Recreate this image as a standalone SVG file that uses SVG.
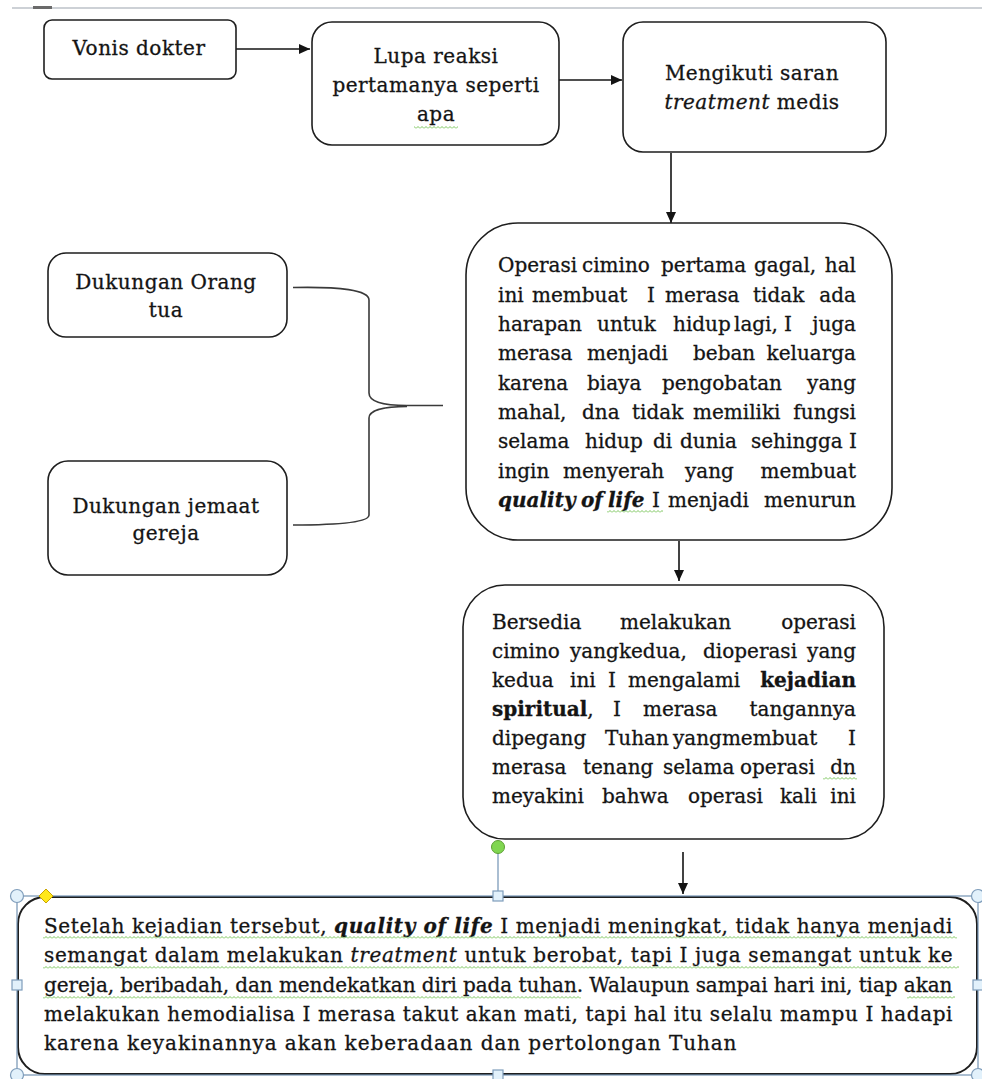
<svg xmlns="http://www.w3.org/2000/svg" width="982" height="1079" viewBox="0 0 982 1079">
  <defs>
    <style>
      .box { fill: #ffffff; stroke: #1e1e1e; stroke-width: 1.6; }
      .t { font-family: "DejaVu Serif", "Liberation Serif", serif; font-size: 20px; fill: #141414; stroke: #141414; stroke-width: 0.3; letter-spacing: 0.5px; }
      .p { font-size: 20px; letter-spacing: 0; }
      .c { text-anchor: middle; }
      .e { text-anchor: end; }
      .bi { font-weight: bold; font-style: italic; }
      .b { font-weight: bold; }
      .i { font-style: italic; }
      .conn { fill: none; stroke: #141414; stroke-width: 1.6; }
      .brace { fill: none; stroke: #3a3a3a; stroke-width: 1.6; }
      .frame { fill: none; stroke: #7493b3; stroke-width: 1.2; }
      .hc { fill: #e2f1fb; stroke: #7f9dbb; stroke-width: 1.2; }
      .hs { fill: #e2f1fb; stroke: #7f9dbb; stroke-width: 1.2; }
    </style>
    <marker id="arrow" markerUnits="userSpaceOnUse" markerWidth="11" markerHeight="10" refX="11" refY="5" orient="auto">
      <path d="M0,0 L11,5 L0,10 z" fill="#141414"/>
    </marker>
    <pattern id="squiggle" width="4" height="3" patternUnits="userSpaceOnUse">
      <polyline points="0,2.5 2,0.5 4,2.5" fill="none" stroke="#6cc04a" stroke-width="0.9"/>
    </pattern>
    <clipPath id="clipBottom">
      <rect x="18" y="897" width="960" height="159"/>
    </clipPath>
  </defs>

  <!-- page edge -->
  <rect x="12" y="7" width="970" height="2" fill="#cdd1d6"/>
  <rect x="33" y="6" width="19" height="3" fill="#6a6a6a"/>

  <!-- connectors -->
  <g id="connectors">
    <line class="conn" x1="236" y1="49" x2="310" y2="49" marker-end="url(#arrow)"/>
    <line class="conn" x1="547" y1="80" x2="622" y2="80" marker-end="url(#arrow)"/>
    <line class="conn" x1="671" y1="153" x2="671" y2="223" marker-end="url(#arrow)"/>
    <line class="conn" x1="679" y1="541" x2="679" y2="581" marker-end="url(#arrow)"/>
    <line class="conn" x1="683" y1="852" x2="683" y2="894" marker-end="url(#arrow)"/>
    <path class="brace" d="M293,287.5 C340,286.5 369,290 369,300 L369,393 C369,402 385,405.5 407,405.5 L443,405.5"/>
    <path class="brace" d="M407,406.5 C385,406.5 369,410 369,418 L369,515 C369,522 340,525 293,525"/>
  </g>

  <g id="vonis">
    <rect class="box" x="44" y="20" width="192" height="59" rx="8"/>
    <text class="t c" x="139" y="55">Vonis dokter</text>
  </g>

  <g id="lupa">
    <rect class="box" x="312" y="22" width="247" height="123" rx="20"/>
    <text class="t c" x="436" y="63">Lupa reaksi</text>
    <text class="t c" x="436" y="92">pertamanya seperti</text>
    <text class="t c" x="436" y="121">apa</text>
    <rect x="414" y="126" width="44" height="3" fill="url(#squiggle)"/>
  </g>

  <g id="mengikuti">
    <rect class="box" x="623" y="22" width="263" height="130" rx="20"/>
    <text class="t c" x="752" y="80">Mengikuti saran</text>
    <text class="t c" x="752" y="109"><tspan class="i">treatment</tspan> medis</text>
  </g>

  <g id="dukungan-ortu">
    <rect class="box" x="48" y="253" width="239" height="84" rx="18"/>
    <text class="t c" x="166" y="289">Dukungan Orang</text>
    <text class="t c" x="166" y="317">tua</text>
  </g>

  <g id="dukungan-gereja">
    <rect class="box" x="48" y="461" width="239" height="114" rx="20"/>
    <text class="t c" x="166" y="513">Dukungan jemaat</text>
    <text class="t c" x="166" y="540">gereja</text>
  </g>

  <g id="operasi-pertama">
    <rect class="box" x="466" y="223" width="426" height="317" rx="52"/>
    <text class="t p" y="272"><tspan x="498">Operasi</tspan><tspan x="582">cimino</tspan><tspan x="661">pertama</tspan><tspan x="754">gagal,</tspan><tspan class="e" x="856">hal</tspan></text>
    <text class="t p" y="301.5"><tspan x="498">ini</tspan><tspan x="532">membuat</tspan><tspan x="647">I</tspan><tspan x="665">merasa</tspan><tspan x="753">tidak</tspan><tspan class="e" x="856">ada</tspan></text>
    <text class="t p" y="331"><tspan x="498">harapan</tspan><tspan x="597">untuk</tspan><tspan x="673">hidup</tspan><tspan x="734">lagi,</tspan><tspan x="784">I</tspan><tspan class="e" x="856">juga</tspan></text>
    <text class="t p" y="360"><tspan x="498">merasa</tspan><tspan x="587">menjadi</tspan><tspan x="693">beban</tspan><tspan class="e" x="856">keluarga</tspan></text>
    <text class="t p" y="389.5"><tspan x="498">karena</tspan><tspan x="587">biaya</tspan><tspan x="662">pengobatan</tspan><tspan class="e" x="856">yang</tspan></text>
    <text class="t p" y="419"><tspan x="498">mahal,</tspan><tspan x="582">dna</tspan><tspan x="632">tidak</tspan><tspan x="693">memiliki</tspan><tspan class="e" x="856">fungsi</tspan></text>
    <text class="t p" y="448"><tspan x="498">selama</tspan><tspan x="585">hidup</tspan><tspan x="653">di</tspan><tspan x="680">dunia</tspan><tspan x="751">sehingga</tspan><tspan class="e" x="857">I</tspan></text>
    <text class="t p" y="477.5"><tspan x="498">ingin</tspan><tspan x="563">menyerah</tspan><tspan x="685">yang</tspan><tspan class="e" x="856">membuat</tspan></text>
    <text class="t p" y="507"><tspan class="bi" x="498">quality</tspan><tspan class="bi" x="581">of</tspan><tspan class="bi" x="608">life</tspan><tspan x="652">I</tspan><tspan x="668">menjadi</tspan><tspan class="e" x="856">menurun</tspan></text>
    <rect x="607" y="510" width="56" height="3" fill="url(#squiggle)"/>
  </g>

  <g id="operasi-kedua">
    <rect class="box" x="463" y="585" width="421" height="254" rx="42"/>
    <text class="t p" y="628.5"><tspan x="492">Bersedia</tspan><tspan x="620">melakukan</tspan><tspan class="e" x="856">operasi</tspan></text>
    <text class="t p" y="657.5"><tspan x="492">cimino</tspan><tspan x="570">yangkedua,</tspan><tspan x="703">dioperasi</tspan><tspan class="e" x="856">yang</tspan></text>
    <text class="t p" y="686.5"><tspan x="492">kedua</tspan><tspan x="570">ini</tspan><tspan x="608">I</tspan><tspan x="628">mengalami</tspan><tspan class="b e" x="856">kejadian</tspan></text>
    <text class="t p" y="715.5"><tspan class="b" x="492">spiritual</tspan><tspan>,</tspan><tspan x="613">I</tspan><tspan x="643">merasa</tspan><tspan class="e" x="856">tangannya</tspan></text>
    <text class="t p" y="744.5"><tspan x="492">dipegang</tspan><tspan x="605">Tuhan</tspan><tspan x="673">yangmembuat</tspan><tspan class="e" x="856">I</tspan></text>
    <text class="t p" y="773.5"><tspan x="492">merasa</tspan><tspan x="583">tenang</tspan><tspan x="663">selama</tspan><tspan x="740">operasi</tspan><tspan class="e" x="856">dn</tspan></text>
    <text class="t p" y="802.5"><tspan x="492">meyakini</tspan><tspan x="602">bahwa</tspan><tspan x="688">operasi</tspan><tspan x="780">kali</tspan><tspan class="e" x="856">ini</tspan></text>
    <rect x="823" y="777" width="34" height="3" fill="url(#squiggle)"/>
  </g>

  <g id="kesimpulan">
    <rect class="box" x="18" y="897" width="959" height="177" rx="27" style="stroke-width:2"/>
    <g clip-path="url(#clipBottom)">
      <text class="t" x="44" y="933" textLength="909" lengthAdjust="spacing">Setelah kejadian tersebut, <tspan class="bi">quality of life</tspan> I menjadi meningkat, tidak hanya menjadi</text>
      <text class="t" x="44" y="962" textLength="909" lengthAdjust="spacing">semangat dalam melakukan <tspan class="i">treatment</tspan> untuk berobat, tapi I juga semangat untuk ke</text>
      <text class="t" x="44" y="991.5" textLength="909" lengthAdjust="spacing">gereja, beribadah, dan mendekatkan diri pada tuhan. Walaupun sampai hari ini, tiap akan</text>
      <text class="t" x="44" y="1020.5" textLength="909" lengthAdjust="spacing">melakukan hemodialisa I merasa takut akan mati, tapi hal itu selalu mampu I hadapi</text>
      <text class="t" x="44" y="1050" textLength="693" lengthAdjust="spacing">karena keyakinannya akan keberadaan dan pertolongan Tuhan</text>
    </g>
    <rect x="43" y="936" width="914" height="3" fill="url(#squiggle)"/>
    <rect x="43" y="966" width="916" height="3" fill="url(#squiggle)"/>
    <rect x="43" y="996" width="538" height="3" fill="url(#squiggle)"/>
    <rect x="907" y="996" width="48" height="3" fill="url(#squiggle)"/>
  </g>

  <!-- selection frame and handles of the bottom shape -->
  <g id="selection">
    <rect class="frame" x="17" y="896" width="961" height="179"/>
    <line x1="498" y1="853" x2="498" y2="892" stroke="#8ea8c3" stroke-width="1.5"/>
    <circle cx="498" cy="847" r="6.5" fill="#80d650" stroke="#5c9f34" stroke-width="1"/>
    <circle class="hc" cx="17" cy="896" r="6.5"/>
    <circle class="hc" cx="978" cy="896" r="6.5"/>
    <circle class="hc" cx="17" cy="1075" r="6.5"/>
    <circle class="hc" cx="978" cy="1075" r="6.5"/>
    <rect class="hs" x="493" y="891" width="10" height="10"/>
    <rect class="hs" x="493" y="1070" width="10" height="10"/>
    <rect class="hs" x="12" y="980" width="10" height="10"/>
    <rect class="hs" x="973" y="980" width="10" height="10"/>
    <path d="M46,889 L53,896 L46,903 L39,896 z" fill="#ffe81a" stroke="#c9a400" stroke-width="1"/>
  </g>
</svg>
